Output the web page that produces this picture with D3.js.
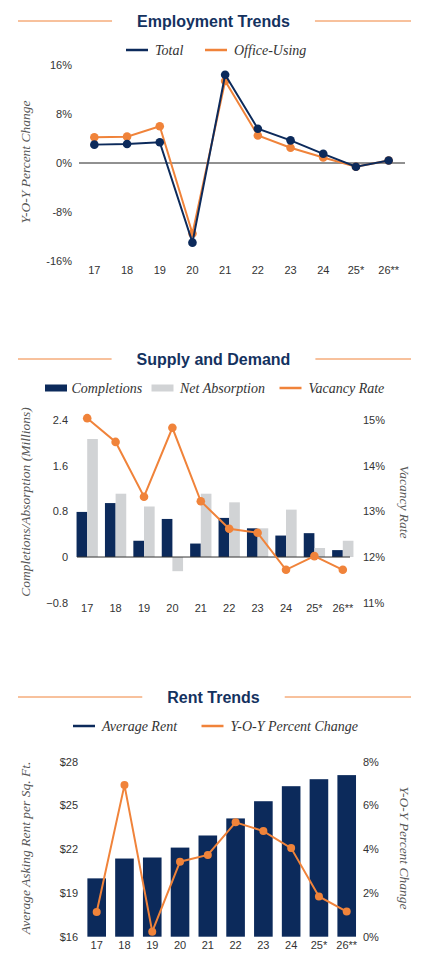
<!DOCTYPE html>
<html>
<head>
<meta charset="utf-8">
<script src="https://cdn.jsdelivr.net/npm/d3@7"></script>
<style>
  html, body { margin: 0; padding: 0; background: #ffffff; }
  svg { display: block; }
  .title { font-family: "Liberation Sans", Arial, sans-serif; font-weight: bold; font-size: 16px; fill: #14325f; }
  .legend { font-family: "Liberation Serif", "Times New Roman", serif; font-style: italic; font-size: 14px; fill: #333333; }
  .axtitle { font-family: "Liberation Serif", "Times New Roman", serif; font-style: italic; font-size: 13.5px; fill: #555555; }
  .tick text, .tk { font-family: "Liberation Sans", Arial, sans-serif; font-size: 11px; fill: #333333; }
</style>
</head>
<body>
<svg id="chart" width="427" height="978"></svg>
<script>
// ---------- DATA ----------
const years = ["17", "18", "19", "20", "21", "22", "23", "24", "25*", "26**"];

// Employment Trends (Y-O-Y % change)
const empTotal  = [3.0, 3.1, 3.4, -13.0, 14.4, 5.6, 3.7, 1.5, -0.6, 0.4];
const empOffice = [4.2, 4.3, 6.0, -11.5, 13.4, 4.5, 2.5, 0.9, -0.6, 0.4];
const empTicks  = [-16, -8, 0, 8, 16];

// Supply and Demand
const completions   = [0.79, 0.945, 0.285, 0.667, 0.236, 0.685, 0.503, 0.376, 0.418, 0.121];
const netAbsorption = [2.067, 1.109, 0.885, -0.248, 1.109, 0.958, 0.503, 0.83, 0.158, 0.285];
const vacancyRate   = [15.04, 14.52, 13.32, 14.83, 13.22, 12.62, 12.53, 11.72, 12.02, 11.72];
const sdLeftTicks   = [-0.8, 0, 0.8, 1.6, 2.4];
const sdRightTicks  = [11, 12, 13, 14, 15];

// Rent Trends
const avgRent      = [20.0, 21.36, 21.43, 22.11, 22.94, 24.11, 25.29, 26.32, 26.8, 27.08];
const rentChange   = [1.13, 6.93, 0.23, 3.43, 3.74, 5.23, 4.83, 4.05, 1.84, 1.15];
const rentTicks    = [16, 19, 22, 25, 28];
const rentPctTicks = [0, 2, 4, 6, 8];

// ---------- STYLE ----------
const NAVY = "#0c2a5b";
const ORANGE = "#f0833a";
const GREY = "#d1d3d5";
const TXT = "#333333";

const svg = d3.select("#chart");

function header(y, text) {
  const t = svg.append("text").attr("class", "title")
    .attr("x", 213.5).attr("y", y + 5.6).attr("text-anchor", "middle").text(text);
  const w = t.node().getComputedTextLength();
  const gap = 25;
  svg.append("line").attr("x1", 18).attr("x2", 213.5 - w / 2 - gap)
    .attr("y1", y).attr("y2", y).attr("stroke", ORANGE).attr("stroke-width", 1);
  svg.append("line").attr("x1", 213.5 + w / 2 + gap).attr("x2", 411)
    .attr("y1", y).attr("y2", y).attr("stroke", ORANGE).attr("stroke-width", 1);
}

function legendLine(x, y, color, label) {
  svg.append("line").attr("x1", x).attr("x2", x + 22).attr("y1", y).attr("y2", y)
    .attr("stroke", color).attr("stroke-width", 2.5);
  svg.append("text").attr("class", "legend").attr("x", x + 29).attr("y", y + 4.5).text(label);
}
function legendRect(x, y, color, label, tx) {
  svg.append("rect").attr("x", x).attr("y", y - 3.5).attr("width", 22).attr("height", 7).attr("fill", color);
  svg.append("text").attr("class", "legend").attr("x", tx).attr("y", y + 4.5).text(label);
}
function axisTitle(x, y, text, rot) {
  svg.append("text").attr("class", "axtitle")
    .attr("transform", `translate(${x},${y}) rotate(${rot})`)
    .attr("text-anchor", "middle").attr("dy", "0.35em").text(text);
}
function styleAxis(g) {
  g.select(".domain").remove();
  g.selectAll(".tick line").remove();
  g.selectAll(".tick text").attr("fill", TXT).style("font-family", "Liberation Sans, Arial, sans-serif").style("font-size", "11px");
}

// =================== CHART 1: Employment Trends ===================
header(21, "Employment Trends");
legendLine(126, 50, NAVY, "Total");
legendLine(205, 50, ORANGE, "Office-Using");

const x1 = d3.scaleBand().domain(years).range([78, 405]).padding(0);
const y1 = d3.scaleLinear().domain([-16, 16]).range([261, 65]);

svg.append("g").attr("transform", "translate(72,0)")
  .call(d3.axisLeft(y1).tickValues(empTicks).tickSize(0).tickPadding(0).tickFormat(d => d + "%"))
  .call(styleAxis);
svg.append("g").attr("transform", "translate(0,266)")
  .call(d3.axisBottom(x1).tickSize(0).tickPadding(0))
  .call(styleAxis);

svg.append("line").attr("x1", 79).attr("x2", 405).attr("y1", y1(0)).attr("y2", y1(0))
  .attr("stroke", "#222").attr("stroke-width", 1);

axisTitle(25, 162, "Y-O-Y Percent Change", -90);

const cx1 = (d, i) => x1(years[i]) + x1.bandwidth() / 2;
[[empOffice, ORANGE], [empTotal, NAVY]].forEach(([data, col]) => {
  svg.append("path").datum(data)
    .attr("d", d3.line().x(cx1).y(d => y1(d)))
    .attr("fill", "none").attr("stroke", col).attr("stroke-width", 2);
  svg.append("g").selectAll("circle").data(data).join("circle")
    .attr("cx", cx1).attr("cy", d => y1(d)).attr("r", 4.3).attr("fill", col);
});

// =================== CHART 2: Supply and Demand ===================
header(359, "Supply and Demand");
legendRect(45, 388, NAVY, "Completions", 71.5);
legendRect(151.5, 388, GREY, "Net Absorption", 180);
legendLine(279.5, 388, ORANGE, "Vacancy Rate");

const x2 = d3.scaleBand().domain(years).range([73, 357]).padding(0);
const y2 = d3.scaleLinear().domain([-0.8, 2.4]).range([602.7, 420]);
const y2r = d3.scaleLinear().domain([11, 15]).range([602.7, 420]);
const barW2 = x2.bandwidth() * 0.375;

svg.append("g").attr("transform", "translate(68,0)")
  .call(d3.axisLeft(y2).tickValues(sdLeftTicks).tickSize(0).tickPadding(0).tickFormat(d => d === 0 ? "0" : d3.format(".1f")(d)))
  .call(styleAxis);
svg.append("g").attr("transform", "translate(363,0)")
  .call(d3.axisRight(y2r).tickValues(sdRightTicks).tickSize(0).tickPadding(0).tickFormat(d => d + "%"))
  .call(styleAxis);
svg.append("g").attr("transform", "translate(0,604)")
  .call(d3.axisBottom(x2).tickSize(0).tickPadding(0))
  .call(styleAxis);

svg.append("g").selectAll("rect").data(completions).join("rect")
  .attr("x", (d, i) => x2(years[i]) + x2.bandwidth() / 2 - barW2)
  .attr("width", barW2)
  .attr("y", d => y2(Math.max(0, d)))
  .attr("height", d => Math.abs(y2(d) - y2(0)))
  .attr("fill", NAVY);
svg.append("g").selectAll("rect").data(netAbsorption).join("rect")
  .attr("x", (d, i) => x2(years[i]) + x2.bandwidth() / 2)
  .attr("width", barW2)
  .attr("y", d => y2(Math.max(0, d)))
  .attr("height", d => Math.abs(y2(d) - y2(0)))
  .attr("fill", GREY);

svg.append("line").attr("x1", 77).attr("x2", 350).attr("y1", y2(0)).attr("y2", y2(0))
  .attr("stroke", "#333").attr("stroke-width", 1);

const cx2 = (d, i) => x2(years[i]) + x2.bandwidth() / 2;
svg.append("path").datum(vacancyRate)
  .attr("d", d3.line().x(cx2).y(d => y2r(d)))
  .attr("fill", "none").attr("stroke", ORANGE).attr("stroke-width", 2);
svg.append("g").selectAll("circle").data(vacancyRate).join("circle")
  .attr("cx", cx2).attr("cy", d => y2r(d)).attr("r", 4.3).attr("fill", ORANGE);

axisTitle(25, 502, "Completions/Absorption (Millions)", -90);
axisTitle(405, 502, "Vacancy Rate", 90);

// =================== CHART 3: Rent Trends ===================
header(697, "Rent Trends");
legendLine(73, 726, NAVY, "Average Rent");
legendLine(201.5, 726, ORANGE, "Y-O-Y Percent Change");

const x3 = d3.scaleBand().domain(years).range([82.8, 360.6]).paddingInner(0.33).paddingOuter(0.165);
const y3 = d3.scaleLinear().domain([16, 28]).range([936.7, 761.7]);
const y3r = d3.scaleLinear().domain([0, 8]).range([936.7, 761.7]);

svg.append("g").attr("transform", "translate(78,0)")
  .call(d3.axisLeft(y3).tickValues(rentTicks).tickSize(0).tickPadding(0).tickFormat(d => "$" + d))
  .call(styleAxis);
svg.append("g").attr("transform", "translate(363,0)")
  .call(d3.axisRight(y3r).tickValues(rentPctTicks).tickSize(0).tickPadding(0).tickFormat(d => d + "%"))
  .call(styleAxis);
svg.append("g").attr("transform", "translate(0,941)")
  .call(d3.axisBottom(x3).tickSize(0).tickPadding(0))
  .call(styleAxis);

svg.append("g").selectAll("rect").data(avgRent).join("rect")
  .attr("x", (d, i) => x3(years[i]))
  .attr("width", x3.bandwidth())
  .attr("y", d => y3(d))
  .attr("height", d => y3(16) - y3(d))
  .attr("fill", NAVY);

const cx3 = (d, i) => x3(years[i]) + x3.bandwidth() / 2;
svg.append("path").datum(rentChange)
  .attr("d", d3.line().x(cx3).y(d => y3r(d)))
  .attr("fill", "none").attr("stroke", ORANGE).attr("stroke-width", 2);
svg.append("g").selectAll("circle").data(rentChange).join("circle")
  .attr("cx", cx3).attr("cy", d => y3r(d)).attr("r", 4).attr("fill", ORANGE);

axisTitle(25, 848, "Average Asking Rent per Sq. Ft.", -90);
axisTitle(405, 848, "Y-O-Y Percent Change", 90);
</script>
</body>
</html>
